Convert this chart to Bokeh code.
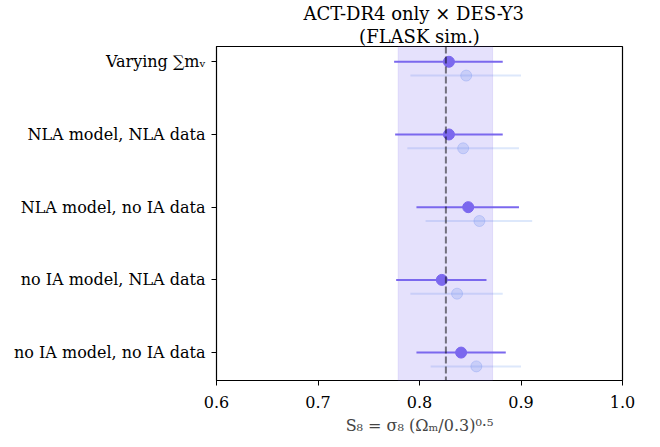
from bokeh.plotting import figure
from bokeh.models import Span, BoxAnnotation, Title, FixedTicker, ColumnDataSource
from bokeh.embed import file_html
from bokeh.resources import INLINE

# ---- data ----
labels = ["Varying \u2211m\u1d65", "NLA model, NLA data", "NLA model, no IA data",
          "no IA model, NLA data", "no IA model, no IA data"]
ypos = [4, 3, 2, 1, 0]

main_s8 = [0.829, 0.829, 0.848, 0.822, 0.841]
main_lo = [0.775, 0.776, 0.797, 0.777, 0.797]
main_hi = [0.882, 0.882, 0.898, 0.866, 0.885]

light_s8 = [0.846, 0.843, 0.859, 0.837, 0.856]
light_lo = [0.791, 0.788, 0.806, 0.791, 0.811]
light_hi = [0.900, 0.898, 0.911, 0.882, 0.900]
light_offset = -0.19

fiducial = 0.826
band_lo, band_hi = 0.779, 0.872

xticks = [0.6, 0.7, 0.8, 0.9, 1.0]

FONT = "DejaVu Serif"
MAIN = "#7b68ee"
LIGHT = "#6495ed"

p = figure(width=640, height=440, x_range=(0.6, 1.0), y_range=(-0.384, 4.21),
           output_backend="svg", toolbar_location=None,
           min_border_left=216, min_border_right=18, min_border_top=42, min_border_bottom=60)

p.title = None
p.add_layout(Title(text="(FLASK sim.)", align="center", text_font=FONT,
                   text_font_size="18px", text_font_style="normal", text_color="black",
                   standoff=0, offset=0), "above")
p.add_layout(Title(text="ACT-DR4 only  \u00d7  DES-Y3", align="center", text_font=FONT,
                   text_font_size="18px", text_font_style="normal", text_color="black",
                   standoff=0, offset=0), "above")

p.xgrid.visible = False
p.ygrid.visible = False
p.outline_line_color = "black"
p.outline_line_width = 1.2
p.outline_line_alpha = 1

p.add_layout(BoxAnnotation(left=band_lo, right=band_hi, fill_color=MAIN, fill_alpha=0.2,
                           line_color=MAIN, line_alpha=0.15))
p.add_layout(Span(location=fiducial, dimension="height", line_color="black", line_alpha=0.5,
                  line_dash="7 3", line_width=2))

ly = [y + light_offset for y in ypos]
src_l = ColumnDataSource(dict(y=ly, x=light_s8, lo=light_lo, hi=light_hi))
src_m = ColumnDataSource(dict(y=ypos, x=main_s8, lo=main_lo, hi=main_hi))

p.segment(x0="lo", x1="hi", y0="y", y1="y", source=src_l, line_color=LIGHT, line_alpha=0.22, line_width=2)
p.scatter(x="x", y="y", source=src_l, size=11, fill_color=LIGHT, fill_alpha=0.22,
          line_color=LIGHT, line_alpha=0.28)
p.segment(x0="lo", x1="hi", y0="y", y1="y", source=src_m, line_color=MAIN, line_width=2)
p.scatter(x="x", y="y", source=src_m, size=11, fill_color=MAIN, line_color=MAIN)

# axes
for ax in (p.xaxis[0], p.yaxis[0]):
    ax.axis_line_color = "black"
    ax.major_tick_line_color = "black"
    ax.major_tick_in = 0
    ax.major_tick_out = 5
    ax.minor_tick_line_color = None
    ax.major_label_text_font = FONT
    ax.major_label_text_font_size = "16px"
    ax.major_label_text_color = "black"

p.xaxis.ticker = FixedTicker(ticks=xticks)
p.xaxis.major_label_overrides = {t: f"{t:.1f}" for t in xticks}
p.xaxis.major_label_standoff = 10
p.xaxis.axis_label = "S\u2088 = \u03c3\u2088 (\u03a9\u2098/0.3)\u2070\u00b7\u2075"
p.xaxis.axis_label_text_font = FONT
p.xaxis.axis_label_text_font_style = "normal"
p.xaxis.axis_label_text_font_size = "16px"
p.xaxis.axis_label_standoff = 5

p.yaxis.ticker = FixedTicker(ticks=ypos)
p.yaxis.major_label_overrides = {y: l for y, l in zip(ypos, labels)}
p.yaxis.major_label_standoff = 6

open("out.html", "w").write(file_html(p, INLINE))
